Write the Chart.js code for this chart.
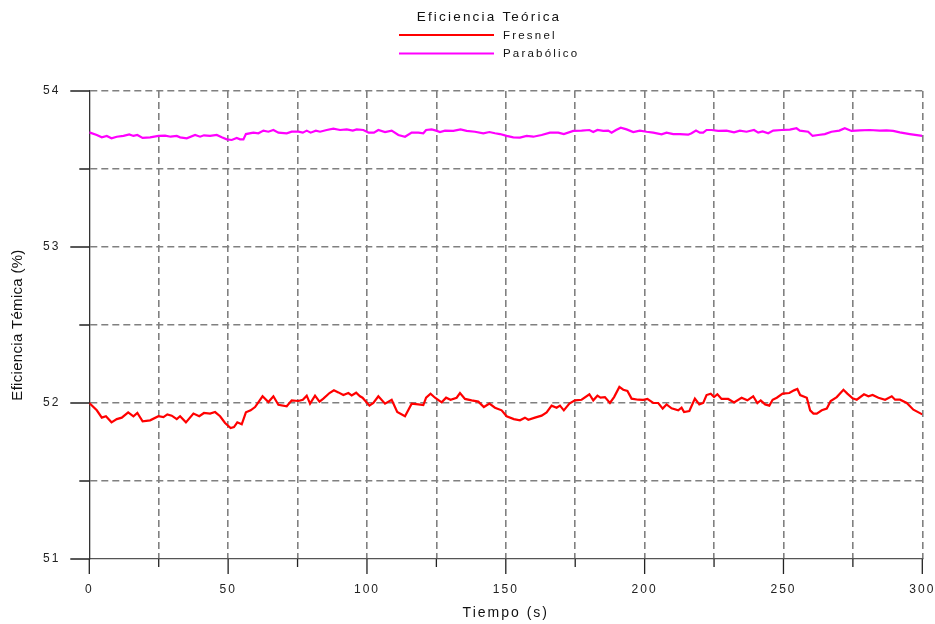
<!DOCTYPE html>
<html>
<head>
<meta charset="utf-8">
<title>Eficiencia Teórica</title>
<script src="https://cdn.jsdelivr.net/npm/chart.js@4/dist/chart.umd.min.js"></script>
<style>
  html, body { margin: 0; padding: 0; background: #fff; }
  #wrap { width: 935px; height: 624px; }
</style>
</head>
<body>
<div id="wrap"><canvas id="grafica"></canvas></div>
<script>
// Tiempo (s) y eficiencia (%) de cada colector
var tiempoFresnel = [0,2.7,4.5,6,8,9.9,11.7,14,15.9,17.3,19.2,21.9,24.9,26.7,28.1,29.7,31.5,32.7,34.8,37.5,39.6,41.3,43.5,45.3,47.1,48.9,50.9,52.1,53.3,54.9,56.4,58.1,59.7,62.4,64.5,66.3,68.1,71.1,72.9,75.3,76.9,78.3,79.5,81.3,82.9,84.3,86.5,88.1,89.7,91.5,93.3,94.5,96.1,97.5,98.4,100.9,102.3,104.1,106.5,108.9,110.9,113.7,116.1,118.5,120.3,121.3,122.9,124.5,126.9,128.5,130.1,132.3,133.5,135.3,137.7,140.1,142.1,144.1,146.1,148.5,150.3,152.9,155.1,156.9,158.1,160.5,162.9,164.7,166.5,168.3,169.5,170.9,172.9,174.9,177.3,180.1,181.5,183,184.1,185.7,187.5,189,190.9,192.3,193.8,195.3,197.7,199.5,201,203.1,204.9,206.5,207.9,209.7,212.1,213.3,214.2,216.1,218.1,219.7,221.1,222.3,223.8,225,226.2,227.7,230.1,232.2,234.9,237,239.1,240.6,241.8,243.4,244.9,246.1,247.6,249.7,252.1,253.8,255,256,258.4,259.6,260.8,262,263.8,265.6,267,269.2,271.6,273,274.9,276.4,279,280.6,282.1,284.2,286.6,289,290.2,292,294.4,296.8,300];
var fresnel = [52.000,51.953,51.906,51.915,51.876,51.897,51.906,51.940,51.915,51.936,51.882,51.889,51.915,51.910,51.927,51.919,51.897,51.915,51.876,51.932,51.915,51.936,51.932,51.942,51.915,51.872,51.840,51.846,51.876,51.863,51.940,51.953,51.974,52.043,52.006,52.043,51.989,51.979,52.017,52.013,52.021,52.047,51.996,52.047,52.009,52.028,52.064,52.081,52.068,52.051,52.064,52.049,52.066,52.043,52.034,51.983,52.000,52.043,51.996,52.021,51.942,51.915,51.996,51.991,51.987,52.034,52.060,52.034,52.004,52.034,52.021,52.034,52.064,52.026,52.017,52.009,51.974,51.996,51.970,51.953,51.915,51.897,51.889,51.906,51.893,51.906,51.919,51.940,51.983,51.970,51.983,51.953,51.996,52.017,52.021,52.056,52.017,52.047,52.034,52.038,52.000,52.038,52.103,52.085,52.077,52.028,52.021,52.020,52.026,52.000,52.000,51.964,51.991,51.966,51.953,51.970,51.942,51.949,52.028,51.991,52.000,52.051,52.060,52.038,52.056,52.026,52.026,52.004,52.034,52.017,52.043,52.000,52.017,51.991,51.983,52.021,52.034,52.060,52.064,52.081,52.090,52.051,52.034,51.953,51.932,51.932,51.953,51.964,52.013,52.038,52.085,52.060,52.030,52.021,52.056,52.043,52.051,52.034,52.021,52.043,52.021,52.021,52.000,51.957,51.927];

var tiempoParabolico = [0,2.7,4.5,6.3,8,9.9,12.3,14.4,15.9,17.3,19.2,21.9,24.9,27.3,29.3,31.5,32.7,35.1,38.1,39.9,41.3,43.5,45.9,47.7,49.5,51.3,53.1,54.3,55.5,56.4,59.1,60.9,62.7,64.5,66.3,68.1,71.1,72.9,75.3,76.9,78.3,79.7,81.6,83.1,85.5,87.9,90.3,92.7,94.9,96.3,98.7,100.6,102.5,104.1,106.5,108.9,111.3,113.7,116.1,118.5,120.3,121.3,123.3,124.9,126.3,128.1,131.1,133.7,135.9,138.9,141.9,144.1,146.1,147.9,150.3,152.7,155.1,157.5,159.9,162.9,165.9,168.9,170.9,174.3,177.3,180.1,181.5,183,185.1,186.9,188.1,189.7,191.4,193.5,195.9,198.3,200.7,203.1,206.1,207.9,210.3,212.7,215.7,216.9,218.5,219.9,221.1,222.3,224.1,226.5,229.5,232.2,234.3,236.7,239.4,240.9,242.5,244.5,246.3,249.3,252.3,254.7,255.9,258.9,260.5,262.5,264.9,267.3,270.1,272.1,274.5,277.5,281.1,284.7,287.1,289.5,291.9,295.5,300];
var parabolico = [53.735,53.718,53.703,53.712,53.697,53.707,53.712,53.722,53.712,53.718,53.699,53.703,53.712,53.714,53.707,53.712,53.703,53.697,53.718,53.707,53.716,53.712,53.718,53.703,53.690,53.686,53.699,53.690,53.690,53.724,53.733,53.729,53.746,53.739,53.750,53.733,53.729,53.739,53.739,53.733,53.746,53.733,53.746,53.739,53.750,53.759,53.750,53.754,53.746,53.754,53.750,53.733,53.733,53.750,53.737,53.746,53.718,53.707,53.733,53.733,53.729,53.750,53.754,53.746,53.737,53.746,53.744,53.754,53.744,53.739,53.729,53.737,53.729,53.724,53.712,53.703,53.701,53.712,53.707,53.718,53.733,53.733,53.724,53.744,53.746,53.750,53.737,53.750,53.744,53.746,53.733,53.750,53.765,53.754,53.737,53.746,53.739,53.733,53.722,53.733,53.724,53.724,53.720,53.729,53.746,53.733,53.733,53.750,53.750,53.744,53.746,53.735,53.746,53.739,53.750,53.733,53.741,53.729,53.746,53.750,53.752,53.761,53.746,53.739,53.712,53.718,53.724,53.739,53.746,53.761,53.744,53.748,53.750,53.746,53.748,53.744,53.735,53.724,53.712];

var titulo = 'Eficiencia Teórica';
var tituloY = 'Eficiencia Témica (%)';
var etiquetas = ['Fresnel', 'Parabólico'];
var colores = ['#ff0000', '#ff00ff'];

var fuente = '"Liberation Sans", Arial, sans-serif';

function puntos(xs, ys) {
    return xs.map((t, i) => ({ x: t, y: ys[i] }));
}

// espaciado de letras para el texto que dibuja Chart.js
const espaciado = {
    id: 'espaciado',
    beforeLayout(chart) { chart.ctx.letterSpacing = '2px'; },
    beforeDraw(chart) { chart.ctx.letterSpacing = '2px'; }
};

// marcas de los ejes: largas en los valores rotulados, cortas en el resto
const marcas = {
    id: 'marcas',
    afterDraw(chart) {
        const ctx = chart.ctx;
        const x = chart.scales.x, y = chart.scales.y;
        const area = chart.chartArea;
        ctx.save();
        ctx.strokeStyle = '#222';
        ctx.lineWidth = 1.3;
        ctx.beginPath();
        y.ticks.forEach(t => {
            const py = y.getPixelForValue(t.value);
            const largo = Number.isInteger(t.value) ? 19 : 10;
            ctx.moveTo(area.left - largo, py);
            ctx.lineTo(area.left, py);
        });
        x.ticks.forEach(t => {
            const px = x.getPixelForValue(t.value);
            const largo = t.value % 50 === 0 ? 15 : 8;
            ctx.moveTo(px, area.bottom);
            ctx.lineTo(px, area.bottom + largo);
        });
        ctx.stroke();
        ctx.restore();
    }
};

// título, leyenda apilada y rótulo del eje Y
const cabecera = {
    id: 'cabecera',
    afterDraw(chart) {
        const ctx = chart.ctx;
        const area = chart.chartArea;
        ctx.save();
        ctx.letterSpacing = '2.2px';
        ctx.fillStyle = '#111';
        ctx.font = '13.5px ' + fuente;
        ctx.textAlign = 'center';
        ctx.textBaseline = 'middle';
        ctx.fillText(titulo, 489, 17);
        ctx.font = '11.5px ' + fuente;
        ctx.letterSpacing = '2.2px';
        ctx.textAlign = 'left';
        chart.data.datasets.forEach((ds, i) => {
            const yy = 35 + i * 18.5;
            ctx.strokeStyle = ds.borderColor;
            ctx.lineWidth = 2;
            ctx.beginPath();
            ctx.moveTo(399, yy);
            ctx.lineTo(494, yy);
            ctx.stroke();
            ctx.fillText(ds.label, 503, yy + 0.5);
        });
        ctx.letterSpacing = '0.3px';
        ctx.font = '15px ' + fuente;
        ctx.translate(18, (area.top + area.bottom) / 2);
        ctx.rotate(-Math.PI / 2);
        ctx.textAlign = 'center';
        ctx.fillText(tituloY, 0, 0);
        ctx.restore();
    }
};

const rejilla = {
    color: ctx => (ctx.tick && (ctx.tick.value === 51 || ctx.tick.value === 0)) ? 'rgba(0,0,0,0)' : '#808080',
    lineWidth: 1.6,
    drawTicks: false
};

new Chart(document.getElementById('grafica'), {
    type: 'line',
    data: {
        datasets: [
            {
                label: etiquetas[0],
                data: puntos(tiempoFresnel, fresnel),
                borderColor: colores[0],
                borderWidth: 2.2,
                pointRadius: 0,
                tension: 0
            },
            {
                label: etiquetas[1],
                data: puntos(tiempoParabolico, parabolico),
                borderColor: colores[1],
                borderWidth: 2.2,
                pointRadius: 0,
                tension: 0
            }
        ]
    },
    options: {
        responsive: true,
        maintainAspectRatio: false,
        animation: false,
        layout: { padding: { top: 91, right: 12.7, left: 0, bottom: 0 } },
        plugins: {
            legend: { display: false },
            title: { display: false },
            tooltip: { enabled: false }
        },
        scales: {
            x: {
                type: 'linear',
                min: 0,
                max: 300,
                afterFit: s => { s.height = 65; s.paddingLeft = 0; s.paddingRight = 0; },
                ticks: {
                    stepSize: 25,
                    padding: 23,
                    color: '#222',
                    font: { family: fuente, size: 12 },
                    maxRotation: 0,
                    autoSkip: false,
                    callback: v => (v % 50 === 0 ? v : '')
                },
                grid: rejilla,
                border: { display: true, color: '#555', width: 1.3, dash: [7, 4] },
                title: {
                    display: true,
                    text: 'Tiempo (s)',
                    color: '#111',
                    font: { family: fuente, size: 14 },
                    padding: { top: 0, bottom: 2 }
                }
            },
            y: {
                min: 51,
                max: 54,
                afterFit: s => { s.width = 89.3; s.paddingTop = 0; s.paddingBottom = 0; },
                ticks: {
                    stepSize: 0.5,
                    padding: 29,
                    color: '#222',
                    font: { family: fuente, size: 12 },
                    autoSkip: false,
                    callback: v => (Number.isInteger(v) ? v : '')
                },
                grid: rejilla,
                border: { display: true, color: '#333', width: 1.3, dash: [7, 4] }
            }
        }
    },
    plugins: [espaciado, marcas, cabecera]
});
</script>
</body>
</html>
